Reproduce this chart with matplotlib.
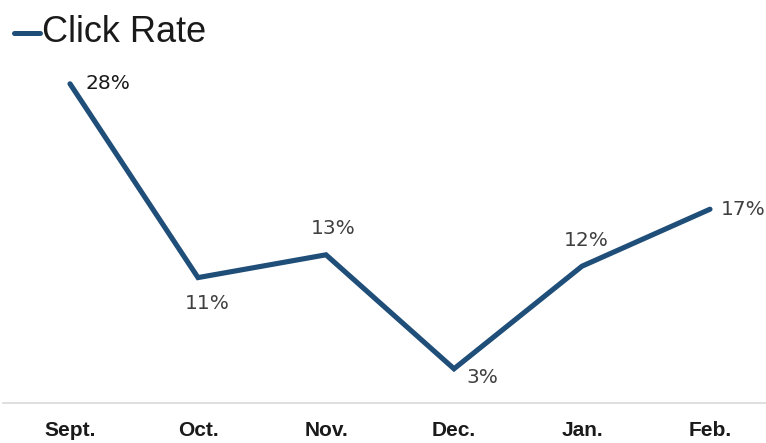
import matplotlib
matplotlib.use("Agg")
import matplotlib.pyplot as plt

months = ["Sept.", "Oct.", "Nov.", "Dec.", "Jan.", "Feb."]
click_rate = [28, 11, 13, 3, 12, 17]
labels = ["28%", "11%", "13%", "3%", "12%", "17%"]

W, H = 766, 443
fig = plt.figure(figsize=(W / 100, H / 100), dpi=100)
left, right, bottom, top = 3, 766, 403, 60
ax = fig.add_axes([left / W, (H - bottom) / H, (right - left) / W, (bottom - top) / H])

x = list(range(len(months)))
ax.plot(x, click_rate, color="#1F4E79", lw=3.7, solid_joinstyle="miter", solid_capstyle="round")

ax.set_xlim((left - 70) / 128, (right - 70) / 128)
ax.set_ylim(0, (bottom - top) / 11.4)

offsets = [(11, 0, "left", "center"), (7, -12, "center", "top"), (5, 12, "center", "bottom"),
           (9, -6, "left", "center"), (3, 12, "center", "bottom"), (8, 0, "left", "center")]
for i, (v, lab) in enumerate(zip(click_rate, labels)):
    dx, dy, ha, va = offsets[i]
    ax.annotate(lab, (i, v), xytext=(dx, dy), textcoords="offset points", ha=ha, va=va,
                fontsize=14.5, color="#1a1a1a" if i == 0 else "#404040", family="DejaVu Sans")

for s in ["top", "right", "left"]:
    ax.spines[s].set_visible(False)
ax.spines["bottom"].set_color("#d9d9d9")
ax.spines["bottom"].set_linewidth(1.2)
ax.set_yticks([])
ax.set_xticks(x)
ax.set_xticklabels(months, family="Liberation Sans", fontsize=15,
                   fontweight="bold", color="#1a1a1a")
ax.tick_params(axis="x", length=0, pad=13)

fig.lines.append(plt.Line2D([14 / W, 40 / W], [(H - 33) / H] * 2, color="#1F4E79", lw=3.6,
                            solid_capstyle="round", transform=fig.transFigure))
fig.text(42 / W, (H - 32) / H, "Click Rate", fontsize=26, va="center", ha="left",
         family="Liberation Sans", color="#1a1a1a")

fig.savefig("out.png", dpi=100)
